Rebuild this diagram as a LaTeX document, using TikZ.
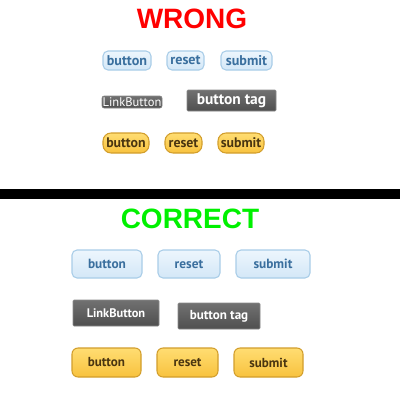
\documentclass[tikz,border=0pt]{standalone}
\usepackage{fontspec}
\setmainfont{PT Sans}
\newfontfamily\headfont{Liberation Sans}
\newdimen\px \px=0.75pt
\definecolor{bluetxt}{HTML}{3A6F9E}
\definecolor{bluetop}{HTML}{EDF6FD}
\definecolor{bluebot}{HTML}{D3E7F7}
\definecolor{blueedge}{HTML}{A9CDE8}
\definecolor{graytop}{HTML}{717171}
\definecolor{graybot}{HTML}{4F4F4F}
\definecolor{grayedge}{HTML}{8A8A8A}
\definecolor{yeltop}{HTML}{FFDD72}
\definecolor{yelbot}{HTML}{F8C23E}
\definecolor{yeledge}{HTML}{D29E2C}
\definecolor{yeltxt}{HTML}{4A3510}
\definecolor{wrongred}{HTML}{FF0000}
\definecolor{rightgreen}{HTML}{00F000}
\begin{document}
\begin{tikzpicture}[x=0.75pt,y=-0.75pt,
  bluebtn/.style={draw=blueedge, line width=0.8pt, top color=bluetop, bottom color=bluebot, text=bluetxt, inner sep=0pt},
  graybtn/.style={draw=grayedge, line width=0.4pt, top color=graytop, bottom color=graybot, text=white, inner sep=0pt},
  yelbtn/.style={draw=yeledge, line width=0.8pt, top color=yeltop, bottom color=yelbot, text=yeltxt, inner sep=0pt},
  title/.style={font=\headfont\bfseries\fontsize{21}{21}\selectfont, inner sep=0pt}]
\useasboundingbox (0,0) rectangle (400,400);
\fill[white] (0,0) rectangle (400,400);
% WRONG section
\node[title, text=wrongred] (wrong) at (192,19) {WRONG};
\begin{scope}[every node/.append style={minimum height=19\px, rounded corners=5\px, font=\bfseries\fontsize{10.6}{11}\selectfont}]
\node[bluebtn, minimum width=48\px] (wb1) at (127,60.5) {button};
\node[bluebtn, minimum width=37\px] (wb2) at (185.5,60.5) {reset};
\node[bluebtn, minimum width=51\px] (wb3) at (246.5,60.5) {submit};
\end{scope}
\node[graybtn, rounded corners=2\px, minimum width=60\px, minimum height=12\px, font=\fontsize{9.4}{9}\selectfont] (wlink) at (132,102) {LinkButton};
\node[graybtn, rounded corners=1\px, minimum width=89\px, minimum height=21\px, font=\bfseries\fontsize{11.6}{12}\selectfont] (wtag) at (231.5,100.5) {button tag};
\begin{scope}[every node/.append style={minimum height=20\px, rounded corners=8\px, font=\bfseries\fontsize{10.4}{11}\selectfont}]
\node[yelbtn, minimum width=46\px] (wy1) at (126,143) {button};
\node[yelbtn, minimum width=37\px] (wy2) at (183.5,143) {reset};
\node[yelbtn, minimum width=46\px] (wy3) at (241,143) {submit};
\end{scope}
% separator bar
\fill[black] (0,189) rectangle (400,199);
% CORRECT section
\node[title, text=rightgreen] (correct) at (190,218.5) {CORRECT};
\begin{scope}[every node/.append style={minimum height=28\px, rounded corners=5\px, font=\bfseries\fontsize{10}{10}\selectfont}]
\node[bluebtn, minimum width=70\px] (cb1) at (107,264) {button};
\node[bluebtn, minimum width=62\px] (cb2) at (189,264) {reset};
\node[bluebtn, minimum width=74\px] (cb3) at (273,264) {submit};
\end{scope}
\node[graybtn, rounded corners=1\px, minimum width=86\px, minimum height=26\px, font=\bfseries\fontsize{9.3}{9}\selectfont] (clink) at (116,313) {LinkButton};
\node[graybtn, rounded corners=1\px, minimum width=82\px, minimum height=26\px, font=\bfseries\fontsize{9.8}{10}\selectfont] (ctag) at (219,316) {button tag};
\begin{scope}[every node/.append style={minimum height=29\px, rounded corners=6\px, font=\bfseries\fontsize{9.8}{10}\selectfont}]
\node[yelbtn, minimum width=69\px] (cy1) at (106.5,362.5) {button};
\node[yelbtn, minimum width=61\px] (cy2) at (187.5,362.5) {reset};
\node[yelbtn, minimum width=69\px] (cy3) at (268.5,362.5) {submit};
\end{scope}
\end{tikzpicture}
\end{document}
